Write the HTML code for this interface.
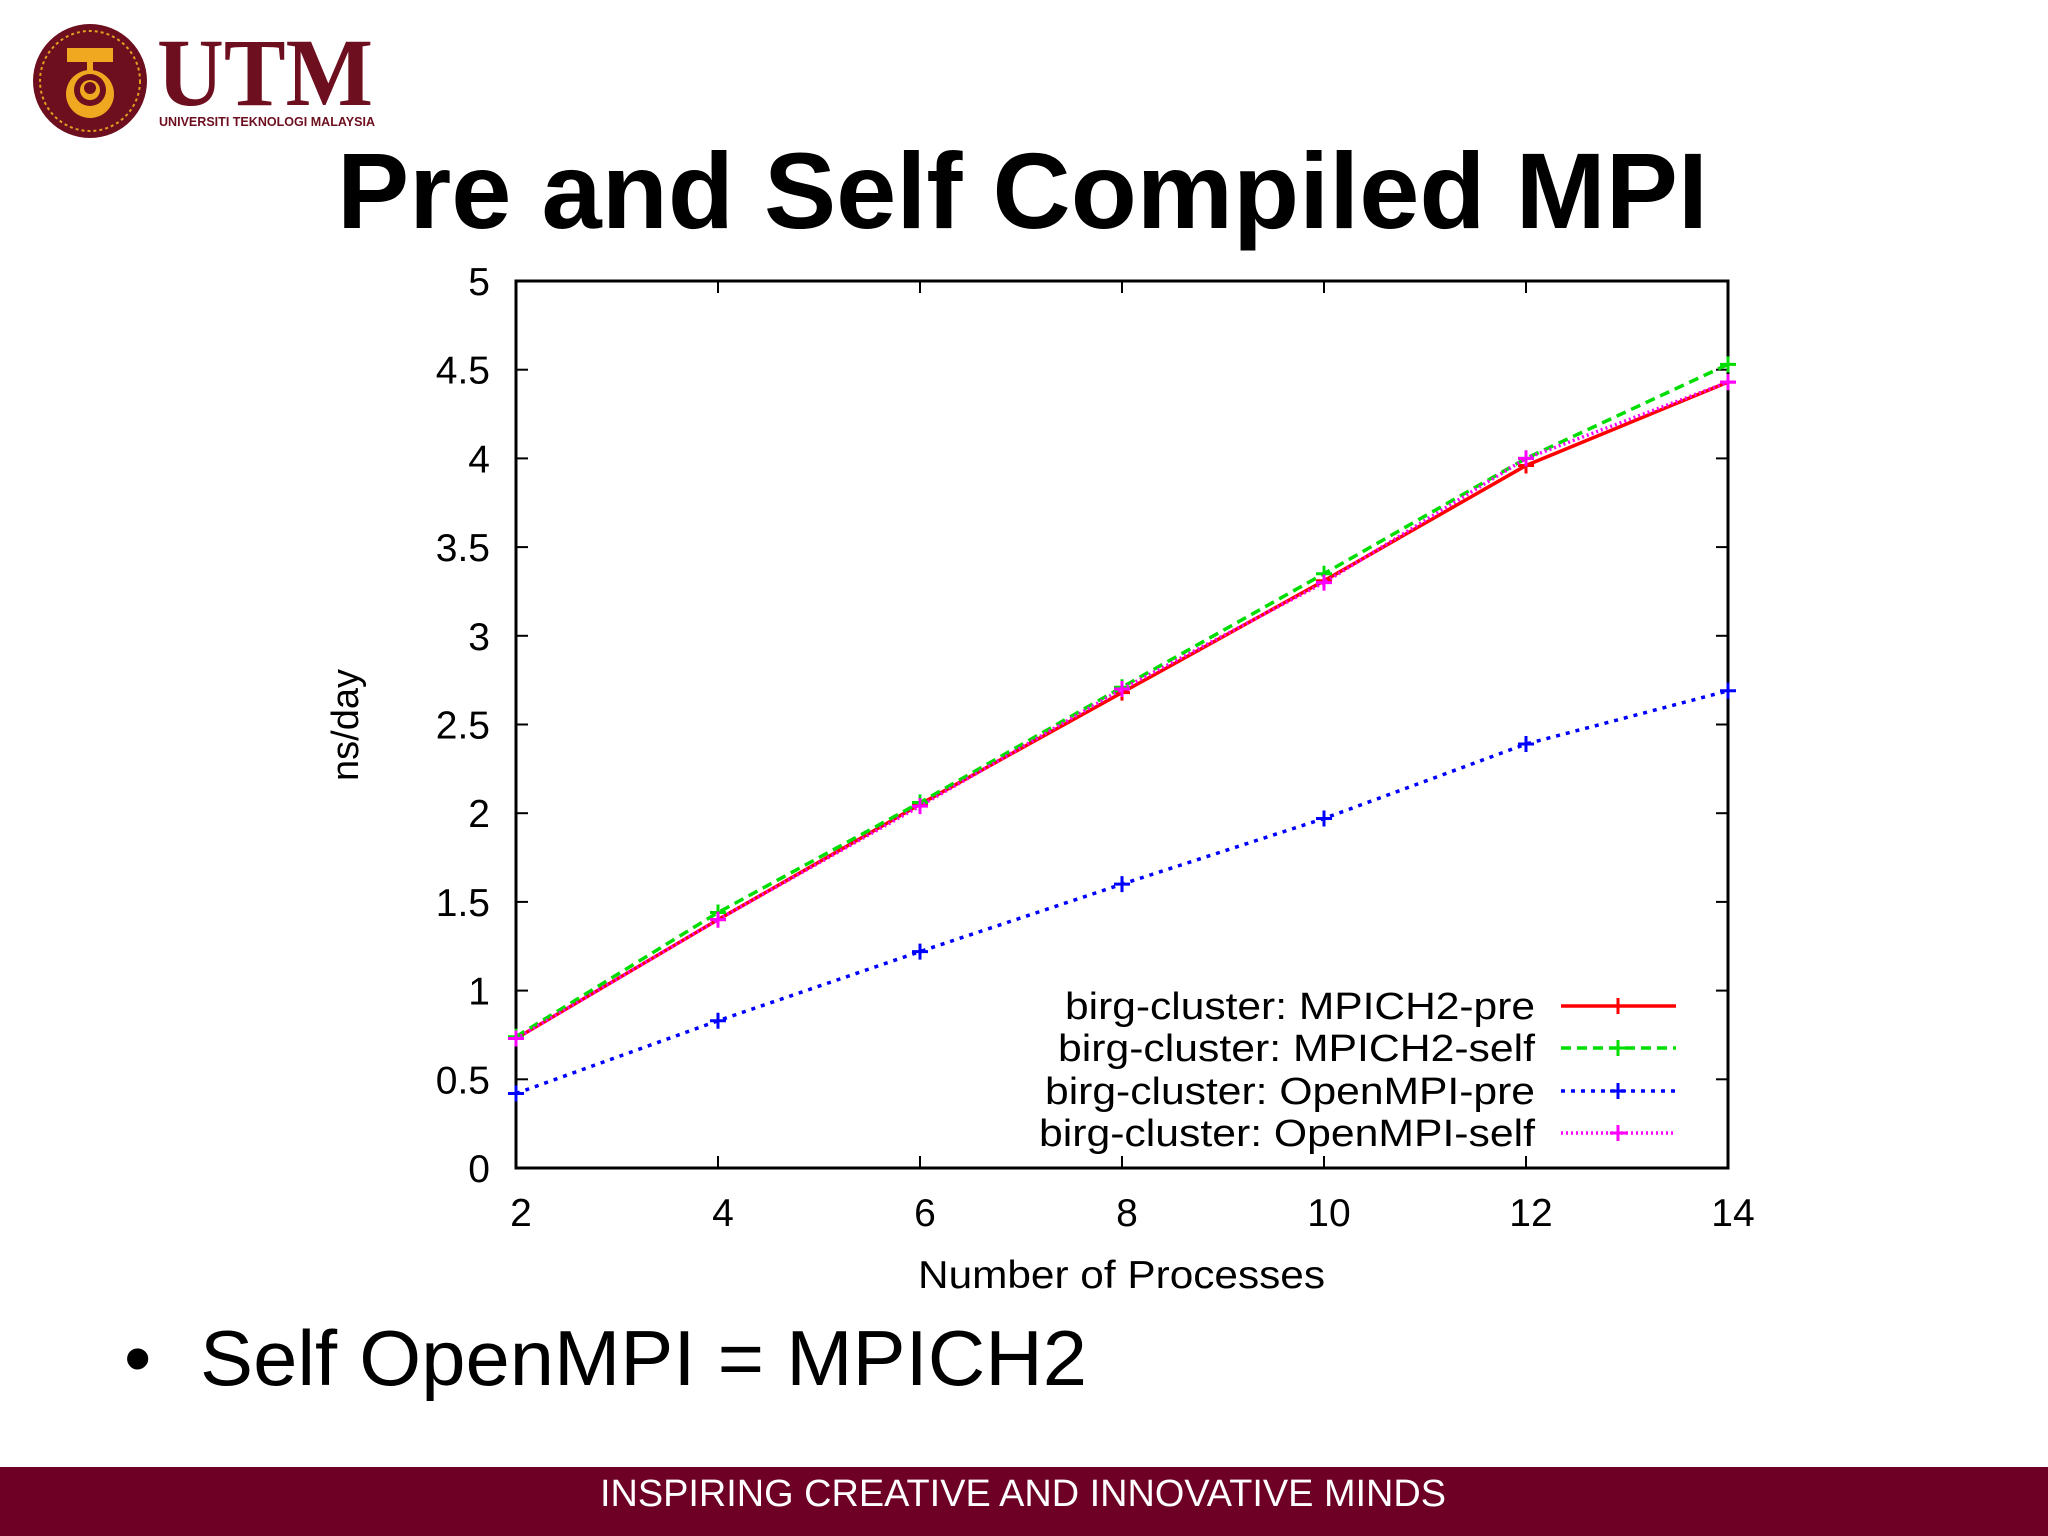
<!DOCTYPE html>
<html><head><meta charset="utf-8"><style>
html,body{margin:0;padding:0;background:#fff}
svg{display:block}
</style></head><body>
<svg id="slide" width="2048" height="1536" viewBox="0 0 2048 1536" xmlns="http://www.w3.org/2000/svg">
<rect x="0" y="0" width="2048" height="1536" fill="#fff"/>
<g>
  <circle cx="90" cy="81" r="57" fill="#6d0f1f"/>
  <circle cx="90" cy="81" r="50" fill="none" stroke="#e0a020" stroke-width="2" stroke-dasharray="3 3"/>
  <rect x="67" y="48" width="46" height="14" fill="#f0a820"/>
  <rect x="87" y="60" width="6" height="20" fill="#f0a820"/>
  <circle cx="90" cy="94" r="24" fill="#f0a820"/>
  <circle cx="90" cy="90" r="16" fill="#6d0f1f"/>
  <circle cx="90" cy="90" r="10" fill="#f0a820"/>
  <circle cx="90" cy="88" r="6" fill="#6d0f1f"/>
  <text x="157" y="105" font-family="Liberation Serif, serif" font-weight="bold" font-size="96" fill="#6d0f1f" textLength="216" lengthAdjust="spacingAndGlyphs">UTM</text>
  <text x="159" y="126" font-family="Liberation Sans, sans-serif" font-weight="bold" font-size="13" fill="#6d0f1f" textLength="216" lengthAdjust="spacingAndGlyphs">UNIVERSITI TEKNOLOGI MALAYSIA</text>
</g>
<text x="337" y="228" font-family="Liberation Sans, sans-serif" font-weight="bold" font-size="108" fill="#000" textLength="1371" lengthAdjust="spacingAndGlyphs">Pre and Self Compiled MPI</text>
<g id="chart"></g>
<text x="124" y="1385" font-family="Liberation Sans, sans-serif" font-size="78" fill="#000">•</text>
<text x="200" y="1385" font-family="Liberation Sans, sans-serif" font-size="78" fill="#000" textLength="887" lengthAdjust="spacingAndGlyphs">Self OpenMPI = MPICH2</text>
<rect x="0" y="1467" width="2048" height="69" fill="#6e0025"/>
<text x="1023" y="1506" text-anchor="middle" font-family="Liberation Sans, sans-serif" font-size="38" fill="#fff" textLength="846" lengthAdjust="spacingAndGlyphs">INSPIRING CREATIVE AND INNOVATIVE MINDS</text>
</svg>
<script>
const xCategories = [2, 4, 6, 8, 10, 12, 14];
const yTicks = [0, 0.5, 1, 1.5, 2, 2.5, 3, 3.5, 4, 4.5, 5];
const yTickLabels = ["0", "0.5", "1", "1.5", "2", "2.5", "3", "3.5", "4", "4.5", "5"];
const seriesNames = ["birg-cluster: MPICH2-pre", "birg-cluster: MPICH2-self", "birg-cluster: OpenMPI-pre", "birg-cluster: OpenMPI-self"];
const mpich2Pre = [0.73, 1.40, 2.05, 2.68, 3.31, 3.96, 4.43];
const mpich2Self = [0.74, 1.44, 2.06, 2.71, 3.35, 4.00, 4.53];
const openmpiPre = [0.42, 0.83, 1.22, 1.60, 1.97, 2.39, 2.69];
const openmpiSelf = [0.73, 1.40, 2.04, 2.70, 3.30, 4.00, 4.43];

const NS = "http://www.w3.org/2000/svg";
const g = document.getElementById('chart');
const L = 516, R = 1728, T = 281, B = 1168;
const xs = v => L + (v - 2) / 12 * (R - L);
const ys = v => B - v / 5 * (B - T);
function mk(tag, attrs, parent) {
  const e = document.createElementNS(NS, tag);
  for (const k in attrs) e.setAttribute(k, attrs[k]);
  (parent || g).appendChild(e);
  return e;
}
const font = "Liberation Sans, sans-serif";
yTicks.forEach((v, i) => {
  const y = ys(v);
  const t1 = mk('line', {x1: L, x2: L + 12, y1: y, y2: y, stroke: '#000', 'stroke-width': 2});
  
  
  const t2 = mk('line', {x1: R - 12, x2: R, y1: y, y2: y, stroke: '#000', 'stroke-width': 2});
  
  
  const tx = mk('text', {x: 490, y: y + 14, 'text-anchor': 'end', 'font-family': font, 'font-size': 39, fill: '#000'});
  tx.textContent = yTickLabels[i];
  
  
});
xCategories.forEach(v => {
  const x = xs(v);
  const t1 = mk('line', {x1: x, x2: x, y1: B, y2: B - 12, stroke: '#000', 'stroke-width': 2});
  
  
  const t2 = mk('line', {x1: x, x2: x, y1: T, y2: T + 12, stroke: '#000', 'stroke-width': 2});
  
  
  const tx = mk('text', {x: x + 5, y: 1226, 'text-anchor': 'middle', 'font-family': font, 'font-size': 39, fill: '#000'});
  tx.textContent = String(v);
  
  
});
const frame = mk('rect', {x: L, y: T, width: R - L, height: B - T, fill: 'none', stroke: '#000', 'stroke-width': 3});


const xl = mk('text', {x: 918, y: 1288, 'font-family': font, 'font-size': 39, fill: '#000', textLength: 407, lengthAdjust: 'spacingAndGlyphs'});
xl.textContent = 'Number of Processes';


const yl = mk('text', {x: 0, y: 0, 'text-anchor': 'middle', 'font-family': font, 'font-size': 38, fill: '#000', transform: 'translate(358,725) rotate(-90)'});
yl.textContent = 'ns/day';



const allSeries = [mpich2Pre, mpich2Self, openmpiPre, openmpiSelf];
const colors = ['#ff0000', '#00dd00', '#0000ff', '#ff00ff'];
const dashes = ['', '10 6', '4 6', '2 3'];
const names = ['mpich2-pre', 'mpich2-self', 'openmpi-pre', 'openmpi-self'];
const legY = [1006, 1048, 1091, 1133];
const legW = [470, 477, 490, 496];
allSeries.forEach((data, s) => {
  const pts = data.map((v, i) => xs(xCategories[i]) + ',' + ys(v)).join(' ');
  const pl = mk('polyline', {points: pts, fill: 'none', stroke: colors[s], 'stroke-width': 3.5, 'stroke-dasharray': dashes[s]});
  
  
  data.forEach((v, i) => {
    const cx = xs(xCategories[i]), cy = ys(v);
    const p = mk('path', {d: `M${cx-8},${cy}H${cx+8}M${cx},${cy-8}V${cy+8}`, stroke: colors[s], 'stroke-width': 3});
    
    
  });
  const ly = legY[s];
  const lt = mk('text', {x: 1535 - legW[s], y: ly + 13, 'font-family': font, 'font-size': 38, fill: '#000', textLength: legW[s], lengthAdjust: 'spacingAndGlyphs'});
  lt.textContent = seriesNames[s];
  
  
  const ll = mk('line', {x1: 1561, x2: 1676, y1: ly, y2: ly, stroke: colors[s], 'stroke-width': 3.5, 'stroke-dasharray': dashes[s]});
  
  
  const lm = mk('path', {d: `M1610,${ly}H1626M1618,${ly-8}V${ly+8}`, stroke: colors[s], 'stroke-width': 3});
  
  
});
</script>
</body></html>
